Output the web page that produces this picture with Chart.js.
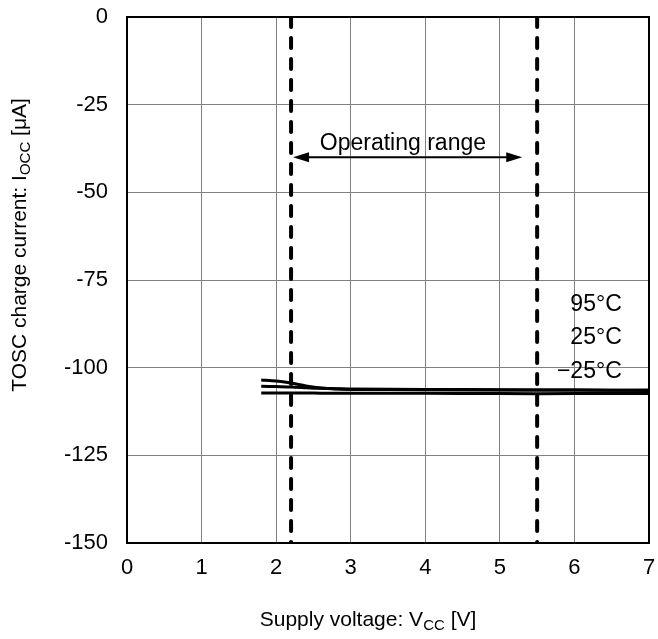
<!DOCTYPE html>
<html>
<head>
<meta charset="utf-8">
<script src="https://cdn.jsdelivr.net/npm/chart.js@4/dist/chart.umd.min.js"></script>
<style>
html,body{margin:0;padding:0;background:#fff;}
#wrap{width:658px;height:639px;}
</style>
</head>
<body>
<div id="wrap"><canvas id="c" width="658" height="639"></canvas></div>
<script>
// ---- data ----
const vcc      = [1.8, 2.0, 2.2, 2.4, 2.6, 2.8, 3.0, 4.0, 5.0, 6.0, 7.0];
const i95      = [-103.5, -103.8, -104.4, -105.2, -105.8, -106.1, -106.2, -106.3, -106.4, -106.4, -106.5];
const i25      = [-105.3, -105.4, -105.5, -105.7, -105.9, -106.0, -106.1, -106.2, -106.3, -106.4, -106.4];
const iM25     = [-107.2, -107.2, -107.2, -107.2, -107.3, -107.3, -107.3, -107.3, -107.4, -107.4, -107.4];
const seriesLabels = ['95°C', '25°C', '\u221225°C'];
const labelPos = [[6.29, -82.0], [6.29, -91.5], [6.2, -101.0]];
const opRange = [2.2, 5.5];
const arrowEnd = 5.3;
const arrowY = -40;
const opText = 'Operating range';
const opTextPos = [3.7, -36.0];
const xTicks = [0, 1, 2, 3, 4, 5, 6, 7];
const yTicks = [0, -25, -50, -75, -100, -125, -150];
const xTitle = [{t:'Supply voltage: V'}, {t:'CC', sub:true}, {t:' [V]'}];
const yTitle = [{t:'TOSC charge current: I'}, {t:'OCC', sub:true}, {t:' [\u03BCA]'}];

const FONT = '"Liberation Sans", Arial, sans-serif';
const mk = (ys) => vcc.map((x, i) => ({x, y: ys[i]}));

function richWidth(ctx, parts, size) {
  let w = 0;
  for (const p of parts) {
    ctx.font = (p.sub ? Math.round(size * 0.72) : size) + 'px ' + FONT;
    w += ctx.measureText(p.t).width;
  }
  return w;
}
function drawRich(ctx, parts, cx, cy, size) {
  const w = richWidth(ctx, parts, size);
  let x = cx - w / 2;
  ctx.textBaseline = 'middle';
  ctx.textAlign = 'left';
  for (const p of parts) {
    const s = p.sub ? Math.round(size * 0.72) : size;
    ctx.font = s + 'px ' + FONT;
    ctx.fillText(p.t, x, cy + (p.sub ? size * 0.28 : 0));
    x += ctx.measureText(p.t).width;
  }
}

const annot = {
  id: 'annot',
  afterDatasetsDraw(chart) {
    const ctx = chart.ctx, xs = chart.scales.x, ys = chart.scales.y, a = chart.chartArea;
    ctx.save();
    // frame
    ctx.strokeStyle = '#000';
    ctx.lineWidth = 2;
    ctx.strokeRect(a.left, a.top, a.right - a.left, a.bottom - a.top);
    ctx.fillStyle = '#000';
    // curve labels
    ctx.font = '23px ' + FONT;
    ctx.textAlign = 'center';
    ctx.textBaseline = 'middle';
    seriesLabels.forEach((s, i) => {
      ctx.fillText(s, xs.getPixelForValue(labelPos[i][0]), ys.getPixelForValue(labelPos[i][1]));
    });
    // operating range text
    ctx.fillText(opText, xs.getPixelForValue(opTextPos[0]), ys.getPixelForValue(opTextPos[1]));
    // arrow
    const x1 = xs.getPixelForValue(opRange[0]) + 2, x2 = xs.getPixelForValue(arrowEnd), y = ys.getPixelForValue(arrowY);
    ctx.lineWidth = 2;
    ctx.beginPath(); ctx.moveTo(x1 + 10, y); ctx.lineTo(x2 - 10, y); ctx.stroke();
    ctx.beginPath(); ctx.moveTo(x1, y); ctx.lineTo(x1 + 16, y - 5); ctx.lineTo(x1 + 16, y + 5); ctx.closePath(); ctx.fill();
    ctx.beginPath(); ctx.moveTo(x2, y); ctx.lineTo(x2 - 16, y - 5); ctx.lineTo(x2 - 16, y + 5); ctx.closePath(); ctx.fill();
    // axis titles
    drawRich(ctx, xTitle, 368, 620, 21);
    ctx.translate(20, 245);
    ctx.rotate(-Math.PI / 2);
    drawRich(ctx, yTitle, 0, 0, 21);
    ctx.restore();
  }
};

const lineStyle = {borderColor:'#000', borderWidth:3, pointRadius:0, showLine:true, tension:0.3, fill:false};
const dashStyle = {borderColor:'#000', borderWidth:4, pointRadius:0, showLine:true, borderDash:[10, 11], borderCapStyle:'round', fill:false};

new Chart(document.getElementById('c'), {
  type: 'scatter',
  data: {
    datasets: [
      Object.assign({label: seriesLabels[0], data: mk(i95)}, lineStyle),
      Object.assign({label: seriesLabels[1], data: mk(i25)}, lineStyle),
      Object.assign({label: seriesLabels[2], data: mk(iM25)}, lineStyle),
      Object.assign({label: 'op1', data: [{x: opRange[0], y: 0}, {x: opRange[0], y: -150}]}, dashStyle),
      Object.assign({label: 'op2', data: [{x: opRange[1], y: 0}, {x: opRange[1], y: -150}]}, dashStyle)
    ]
  },
  options: {
    responsive: false,
    animation: false,
    devicePixelRatio: 1,
    layout: {padding: {top: 17, right: 9, left: 0, bottom: 0}},
    plugins: {legend: {display: false}, tooltip: {enabled: false}},
    scales: {
      x: {
        type: 'linear', min: 0, max: 7,
        afterFit(s) { s.height = 96; s.paddingLeft = 0; s.paddingRight = 0; },
        afterBuildTicks(s) { s.ticks = xTicks.map(v => ({value: v})); },
        ticks: {color: '#000', font: {family: FONT, size: 22}, padding: 12, maxRotation: 0,
                callback: v => String(v)},
        grid: {color: '#808080', lineWidth: 1, drawTicks: false},
        border: {display: false}
      },
      y: {
        type: 'linear', min: -150, max: 0,
        afterFit(s) { s.width = 127; s.paddingTop = 0; s.paddingBottom = 0; },
        afterBuildTicks(s) { s.ticks = yTicks.map(v => ({value: v})); },
        ticks: {color: '#000', font: {family: FONT, size: 22}, padding: 19,
                callback: v => String(v)},
        grid: {color: '#808080', lineWidth: 1, drawTicks: false},
        border: {display: false}
      }
    }
  },
  plugins: [annot]
});
</script>
</body>
</html>
